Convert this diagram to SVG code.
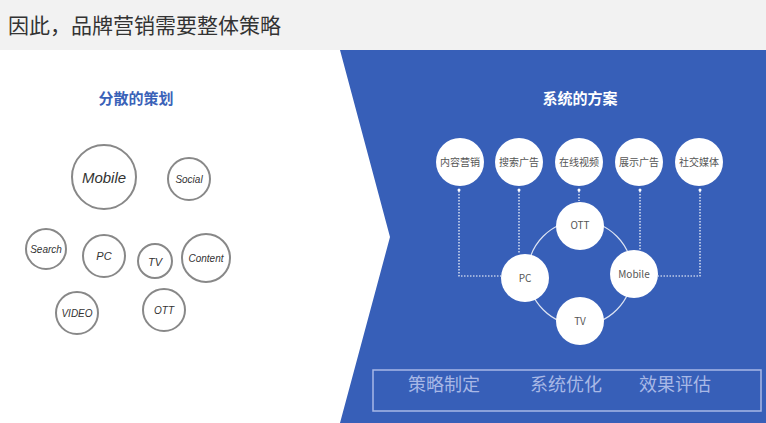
<svg xmlns="http://www.w3.org/2000/svg" width="766" height="423" viewBox="0 0 766 423">
<style>
.l circle{fill:#fff;stroke:#888;stroke-width:2}
.l text{font-family:"Comic Sans MS","Liberation Sans",cursive;fill:#333;text-anchor:middle;font-style:italic}
.r circle{fill:#fff}
.r text{font-family:"Noto Sans CJK SC",sans-serif;font-size:10px;fill:#555;text-anchor:middle}
.dl{stroke:#fff;stroke-width:1.2;stroke-dasharray:1.5 1.5;fill:none}
</style>
<rect width="766" height="423" fill="#fff"/>
<rect width="766" height="50" fill="#f2f2f2"/>
<text x="8" y="33" font-family="Noto Sans CJK SC,sans-serif" font-size="21" fill="#333">因此，品牌营销需要整体策略</text>
<polygon points="340,50 766,50 766,423 340,423 390,237" fill="#375fb8"/>
<text x="136" y="104" font-family="Noto Sans CJK SC,sans-serif" font-size="15" font-weight="bold" fill="#3a62b8" text-anchor="middle">分散的策划</text>
<text x="580" y="104" font-family="Noto Sans CJK SC,sans-serif" font-size="15" font-weight="bold" fill="#fff" text-anchor="middle">系统的方案</text>
<g class="l">
<g id="l-mobile"><circle cx="104" cy="177" r="32"/><text x="104" y="183" font-size="15">Mobile</text></g>
<g id="l-social"><circle cx="189" cy="179" r="21"/><text x="189" y="183" font-size="10">Social</text></g>
<g id="l-search"><circle cx="46" cy="249" r="20"/><text x="46" y="253" font-size="10">Search</text></g>
<g id="l-pc"><circle cx="104" cy="256" r="21"/><text x="104" y="260" font-size="11">PC</text></g>
<g id="l-tv"><circle cx="155" cy="261" r="17"/><text x="155" y="266" font-size="11">TV</text></g>
<g id="l-content"><circle cx="206" cy="258" r="24"/><text x="206" y="262" font-size="10">Content</text></g>
<g id="l-video"><circle cx="77" cy="313" r="21"/><text x="77" y="317" font-size="10">VIDEO</text></g>
<g id="l-ott"><circle cx="164" cy="310" r="21"/><text x="164" y="314" font-size="10">OTT</text></g>
</g>
<g id="connectors">
<circle cx="580" cy="273" r="52" fill="none" stroke="#dde4f3" stroke-width="1.2"/>
<path class="dl" d="M459,191V276H501 M519,191V254 M579,191V201 M640,191V252 M700,191V276H658"/>
<g fill="#fff"><circle cx="459" cy="190" r="1.5"/><circle cx="519" cy="190" r="1.5"/><circle cx="579" cy="190" r="1.5"/><circle cx="640" cy="190" r="1.5"/><circle cx="700" cy="190" r="1.5"/></g>
</g>
<g class="r">
<g id="r1"><circle cx="460" cy="162" r="24"/><text x="460" y="166">内容营销</text></g>
<g id="r2"><circle cx="519" cy="162" r="24"/><text x="519" y="166">搜索广告</text></g>
<g id="r3"><circle cx="579" cy="162" r="24"/><text x="579" y="166">在线视频</text></g>
<g id="r4"><circle cx="639" cy="162" r="24"/><text x="639" y="166">展示广告</text></g>
<g id="r5"><circle cx="699" cy="162" r="24"/><text x="699" y="166">社交媒体</text></g>
<g id="r-ott"><circle cx="580" cy="226" r="24"/><text x="580" y="229">OTT</text></g>
<g id="r-pc"><circle cx="525" cy="278" r="24"/><text x="525" y="282">PC</text></g>
<g id="r-mobile"><circle cx="634" cy="274" r="24"/><text x="634" y="278">Mobile</text></g>
<g id="r-tv"><circle cx="580" cy="321" r="24"/><text x="580" y="325">TV</text></g>
</g>
<rect x="373" y="370" width="388" height="41" fill="none" stroke="#a8b8e6" stroke-width="1.5"/>
<g font-family="Noto Sans CJK SC,sans-serif" font-size="18" fill="#a8b8e6" text-anchor="middle">
<text x="444" y="391">策略制定</text><text x="566" y="391">系统优化</text><text x="675" y="391">效果评估</text>
</g>
</svg>
